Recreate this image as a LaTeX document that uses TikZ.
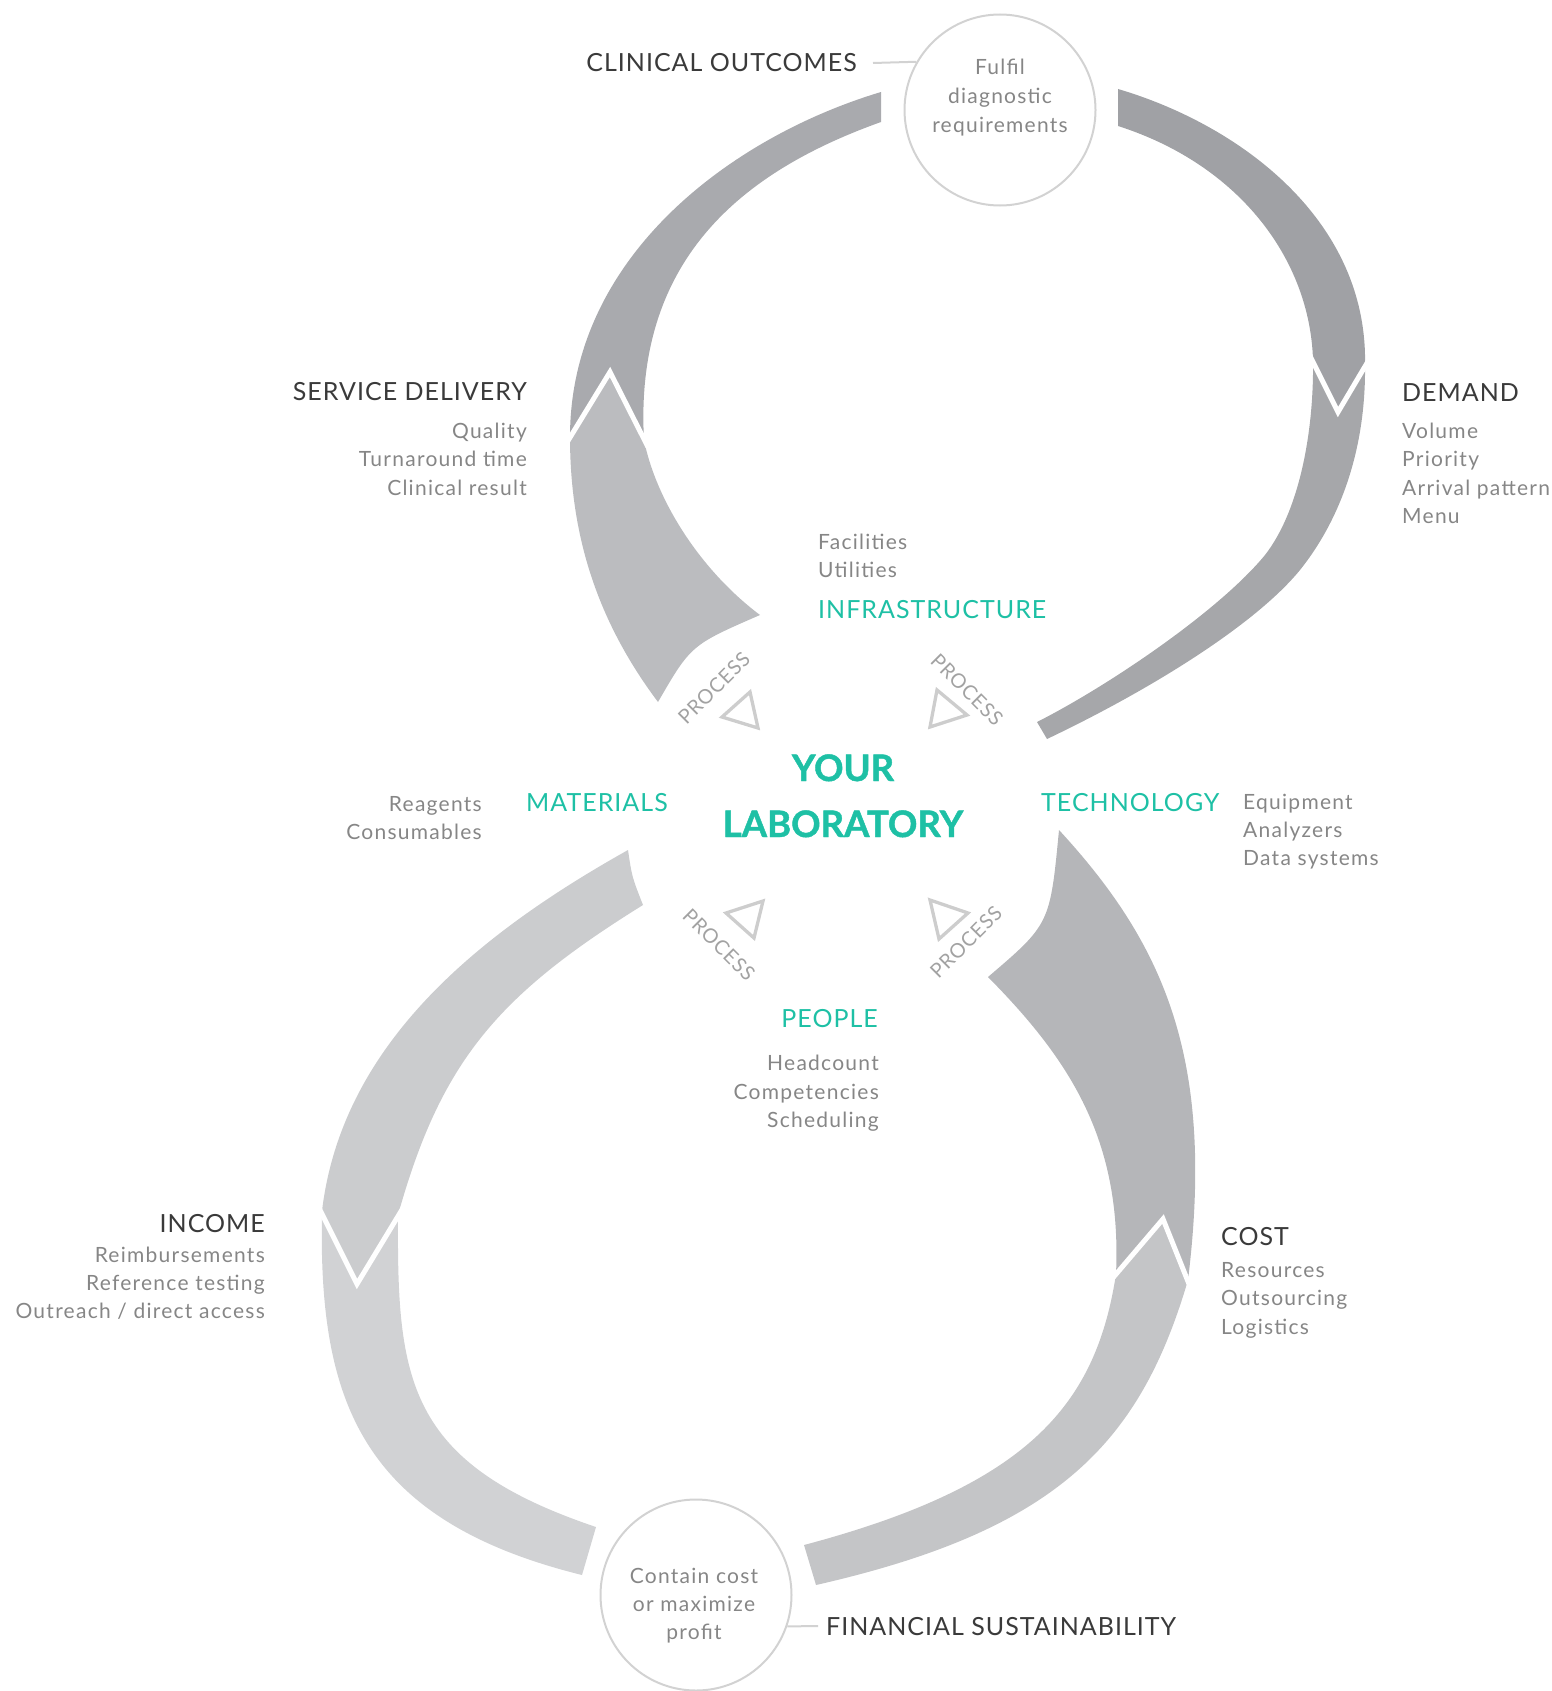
\documentclass[tikz,border=0pt]{standalone}
\usepackage{fontspec}
\setmainfont{Lato}[LetterSpace=4]
\newfontfamily\subfont{Lato}[LetterSpace=6]
\newfontfamily\titlefont{Lato}[BoldFeatures={FakeBold=1.2}]
\definecolor{darktext}{HTML}{3A3A3A}
\definecolor{graytext}{HTML}{868686}
\definecolor{tealc}{HTML}{1EC0A5}
\definecolor{proctext}{HTML}{A2A2A2}
\definecolor{trigray}{HTML}{CDCDCD}
\definecolor{ringgray}{HTML}{D2D2D2}
\definecolor{colA1}{HTML}{A9AAAE}
\definecolor{colA2}{HTML}{BBBCBF}
\definecolor{colB1}{HTML}{A0A1A5}
\definecolor{colB2}{HTML}{A6A7AA}
\definecolor{colC1}{HTML}{B5B6B9}
\definecolor{colC2}{HTML}{C4C5C7}
\definecolor{colD1}{HTML}{CBCCCE}
\definecolor{colD2}{HTML}{D1D2D4}
\begin{document}
\begin{tikzpicture}[x=1pt,y=-1pt,
  chev/.style={draw=white,line width=5pt,line join=miter},
  head/.style={font=\fontsize{25}{30}\selectfont,text=darktext,inner sep=0pt},
  sub/.style={font=\subfont\fontsize{21}{25}\selectfont,text=graytext,inner sep=0pt},
  tealbl/.style={font=\fontsize{25}{30}\selectfont,text=tealc,inner sep=0pt},
  titl/.style={font=\titlefont\bfseries\fontsize{36.5}{42}\selectfont,text=tealc,inner sep=0pt},
  proc/.style={font=\fontsize{20}{24}\selectfont,text=proctext,inner sep=0pt},
  tri/.style={draw=trigray,line width=3.3pt,line join=miter},
  ring/.style={circle,draw=ringgray,line width=2pt,minimum size=191pt,inner sep=0pt},
  ringline/.style={draw=ringgray,line width=2pt}]
\useasboundingbox (0,0) rectangle (1551,1691);

% ---------- band A (top-left) ----------
\fill[colA1] (881,92) .. controls (731,137) and (570,257) .. (570,437)
  -- (610,372) -- (644,440)
  .. controls (634,260) and (741,172) .. (881,122) -- cycle;
\fill[colA2] (570,437) .. controls (570,537) and (598,622) .. (658,702)
  .. controls (691,645) .. (760,615)
  .. controls (700,570) and (656,500) .. (644,440)
  -- (610,372) -- cycle;
\draw[chev] (566,444) -- (610,372) -- (648,447);

% ---------- band B (top-right) ----------
\fill[colB1] (1118,89) .. controls (1240,125) and (1368,220) .. (1365,365)
  -- (1338,412) -- (1313,360)
  .. controls (1310,260) and (1240,165) .. (1118,126) -- cycle;
\fill[colB2] (1365,365) .. controls (1366,450) and (1340,520) .. (1300,570)
  .. controls (1255,625) and (1150,690) .. (1047,739)
  -- (1037,722)
  .. controls (1110,685) and (1220,610) .. (1265,555)
  .. controls (1300,510) and (1314,430) .. (1313,360)
  -- (1338,412) -- cycle;
\draw[chev] (1370,358) -- (1338,412) -- (1308,352);

% ---------- band C (bottom-right) ----------
\fill[colC1] (1059,830) .. controls (1165,945) and (1215,1060) .. (1188,1280)
  -- (1163,1219) -- (1116,1274)
  .. controls (1122,1140) and (1070,1060) .. (988,977)
  .. controls (1050,924) .. (1059,830) -- cycle;
\fill[colC2] (1188,1280) .. controls (1140,1443) and (1058,1530) .. (816,1585)
  -- (804,1545)
  .. controls (1030,1485) and (1096,1404) .. (1116,1274)
  -- (1163,1219) -- cycle;
\draw[chev] (1111,1280) -- (1163,1219) -- (1191,1289);

% ---------- band D (bottom-left) ----------
\fill[colD1] (628,850) .. controls (480,933) and (342,1043) .. (322,1211)
  -- (357,1284) -- (398,1215)
  .. controls (441,1061) and (498,995) .. (643,905)
  .. controls (632,877) .. (628,850) -- cycle;
\fill[colD2] (322,1211) .. controls (318,1400) and (360,1520) .. (582,1575)
  -- (596,1527)
  .. controls (406,1463) and (397,1380) .. (398,1215)
  -- (357,1284) -- cycle;
\draw[chev] (317,1204) -- (357,1284) -- (403,1208);

% ---------- top circle ----------
\node[ring] (topc) at (1000,110) {};
\node[sub,anchor=base] (t1) at (1000,75) {Fulfil};
\node[sub,anchor=base] (t2) at (1000,103.5) {diagnostic};
\node[sub,anchor=base] (t3) at (1000,132) {requirements};
\node[head,anchor=base east] (co) at (857,72) {CLINICAL OUTCOMES};
\coordinate (coline) at (873,63);
\draw[ringline] (coline) -- (topc.150);

% ---------- bottom circle ----------
\node[ring] (botc) at (696,1595) {};
\node[sub,anchor=base] (b1) at (694,1583) {Contain cost};
\node[sub,anchor=base] (b2) at (694,1611) {or maximize};
\node[sub,anchor=base] (b3) at (694,1639) {profit};
\node[head,anchor=base west] (fs) at (826,1635) {FINANCIAL SUSTAINABILITY};
\coordinate (fsline) at (818,1626);
\draw[ringline] (botc.-19) -- (fsline);

% ---------- service delivery ----------
\node[head,anchor=base east] (sd) at (527,400) {SERVICE DELIVERY};
\node[sub,anchor=base east] (sd1) at (527,438) {Quality};
\node[sub,anchor=base east] (sd2) at (527,466) {Turnaround time};
\node[sub,anchor=base east] (sd3) at (527,495) {Clinical result};

% ---------- demand ----------
\node[head,anchor=base west] (dm) at (1402,401) {DEMAND};
\node[sub,anchor=base west] (dm1) at (1402,438) {Volume};
\node[sub,anchor=base west] (dm2) at (1402,466) {Priority};
\node[sub,anchor=base west] (dm3) at (1402,495) {Arrival pattern};
\node[sub,anchor=base west] (dm4) at (1402,523) {Menu};

% ---------- infrastructure ----------
\node[sub,anchor=base west] (in1) at (818,549) {Facilities};
\node[sub,anchor=base west] (in2) at (818,577) {Utilities};
\node[tealbl,anchor=base west] (inf) at (818,618) {INFRASTRUCTURE};

% ---------- centre ----------
\node[titl,anchor=base] (your) at (843,781) {YOUR};
\node[titl,anchor=base] (lab) at (843,837) {LABORATORY};

\node[tealbl,anchor=base west] (mat) at (526,811) {MATERIALS};
\node[sub,anchor=base east] (mt1) at (482,811) {Reagents};
\node[sub,anchor=base east] (mt2) at (482,839) {Consumables};

\node[tealbl,anchor=base west] (tec) at (1041,811) {TECHNOLOGY};
\node[sub,anchor=base west] (tc1) at (1243,809) {Equipment};
\node[sub,anchor=base west] (tc2) at (1243,837) {Analyzers};
\node[sub,anchor=base west] (tc3) at (1243,865) {Data systems};

\node[tealbl,anchor=base east] (peo) at (878,1027) {PEOPLE};
\node[sub,anchor=base east] (pe1) at (879,1070) {Headcount};
\node[sub,anchor=base east] (pe2) at (879,1099) {Competencies};
\node[sub,anchor=base east] (pe3) at (879,1127) {Scheduling};

% ---------- income ----------
\node[head,anchor=base east] (inc) at (265,1232) {INCOME};
\node[sub,anchor=base east] (ic1) at (265,1262) {Reimbursements};
\node[sub,anchor=base east] (ic2) at (265,1290) {Reference testing};
\node[sub,anchor=base east] (ic3) at (265,1318) {Outreach / direct access};

% ---------- cost ----------
\node[head,anchor=base west] (cst) at (1221,1245) {COST};
\node[sub,anchor=base west] (cs1) at (1221,1277) {Resources};
\node[sub,anchor=base west] (cs2) at (1221,1305) {Outsourcing};
\node[sub,anchor=base west] (cs3) at (1221,1334) {Logistics};

% ---------- process labels ----------
\node[proc,rotate=45] (p1) at (714,688) {PROCESS};
\node[proc,rotate=-45] (p2) at (967,690) {PROCESS};
\node[proc,rotate=-45] (p3) at (719,945) {PROCESS};
\node[proc,rotate=45] (p4) at (966,942) {PROCESS};
\draw[tri] (722,717) -- (750,692) -- (758,728) -- cycle;
\draw[tri] (937,690) -- (930,727) -- (967,715) -- cycle;
\draw[tri] (726,913) -- (763,901) -- (754,938) -- cycle;
\draw[tri] (930,900) -- (968,913) -- (939,939) -- cycle;
\end{tikzpicture}
\end{document}
